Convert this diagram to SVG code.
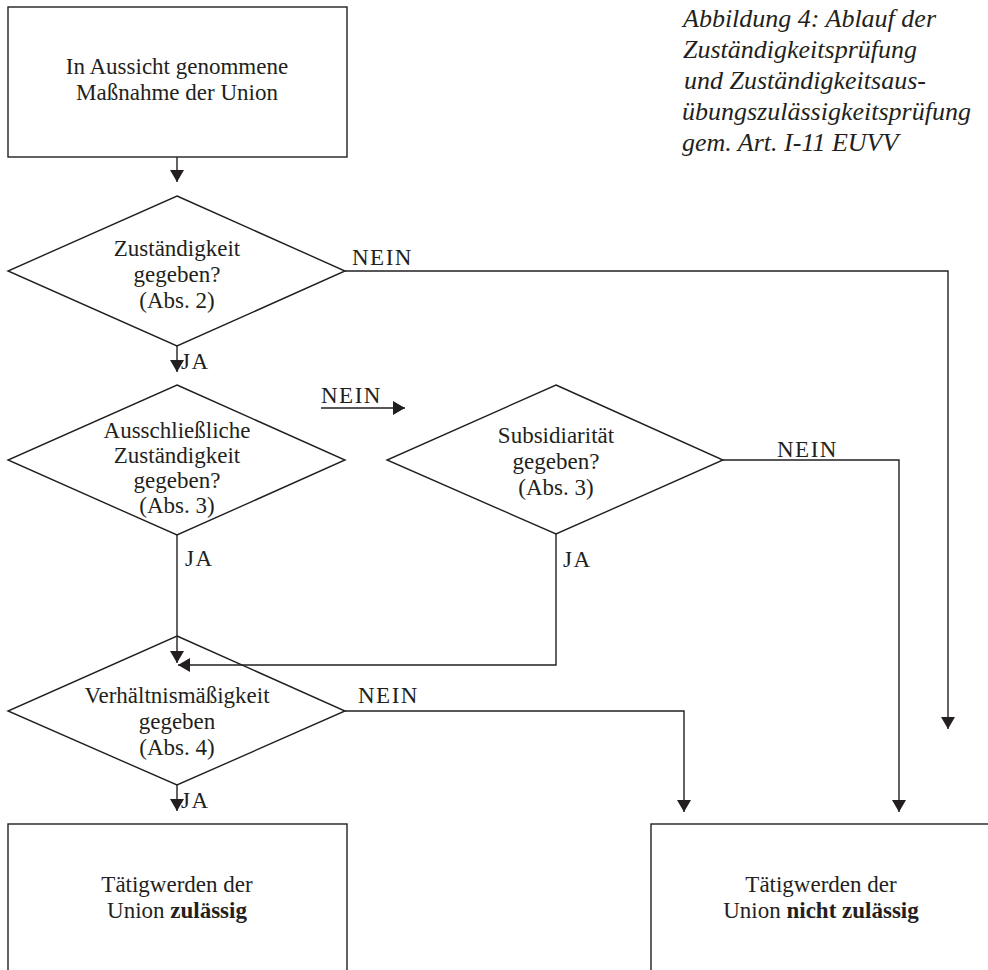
<svg xmlns="http://www.w3.org/2000/svg" width="988" height="970" viewBox="0 0 988 970">
<style>
  .shape { fill: #ffffff; stroke: #231f20; stroke-width: 1.4; }
  .conn { fill: none; stroke: #231f20; stroke-width: 1.4; }
  text { font-family: "Liberation Serif", "Times New Roman", serif; fill: #231f20; }
  .lbl { font-size: 23px; text-anchor: middle; }
  .tag { font-size: 23px; letter-spacing: 1.5px; }
  .title { font-size: 26px; font-style: italic; }
  .b { font-weight: bold; }
</style>
<defs>
  <marker id="arr" viewBox="0 0 12 14" refX="12" refY="7" markerWidth="12" markerHeight="14" markerUnits="userSpaceOnUse" orient="auto">
    <path d="M0,0 L12,7 L0,14 z" fill="#231f20"/>
  </marker>
</defs>
<rect width="988" height="970" fill="#ffffff"/>

<g id="title">
  <text class="title" x="683" y="27">Abbildung 4: Ablauf der</text>
  <text class="title" x="683" y="58">Zuständigkeitsprüfung</text>
  <text class="title" x="684" y="89">und Zuständigkeitsaus-</text>
  <text class="title" x="682" y="120">übungszulässigkeitsprüfung</text>
  <text class="title" x="682" y="151">gem. Art. I-11 EUVV</text>
</g>

<g id="start">
  <rect class="shape" x="8" y="7" width="339" height="150"/>
  <text class="lbl" x="177" y="74">In Aussicht genommene</text>
  <text class="lbl" x="177" y="100">Maßnahme der Union</text>
</g>

<g id="d1">
  <polygon class="shape" points="177,196 345,271 177,346 8,271"/>
  <text class="lbl" x="177" y="256">Zuständigkeit</text>
  <text class="lbl" x="177" y="282">gegeben?</text>
  <text class="lbl" x="177" y="308">(Abs. 2)</text>
</g>

<g id="d2">
  <polygon class="shape" points="177,385 345,460 177,535 8,460"/>
  <text class="lbl" x="177" y="438">Ausschließliche</text>
  <text class="lbl" x="177" y="463">Zuständigkeit</text>
  <text class="lbl" x="177" y="488">gegeben?</text>
  <text class="lbl" x="177" y="513">(Abs. 3)</text>
</g>

<g id="dsub">
  <polygon class="shape" points="556,385 723,460 556,534 387,460"/>
  <text class="lbl" x="556" y="443">Subsidiarität</text>
  <text class="lbl" x="556" y="469">gegeben?</text>
  <text class="lbl" x="556" y="495">(Abs. 3)</text>
</g>

<g id="d3">
  <polygon class="shape" points="177,636 345,711 177,785 8,711"/>
  <text class="lbl" x="177" y="703">Verhältnismäßigkeit</text>
  <text class="lbl" x="177" y="729">gegeben</text>
  <text class="lbl" x="177" y="755">(Abs. 4)</text>
</g>

<g id="ok">
  <rect class="shape" x="8" y="824" width="339" height="160"/>
  <text class="lbl" x="177" y="892">Tätigwerden der</text>
  <text class="lbl" x="177" y="918">Union <tspan class="b">zulässig</tspan></text>
</g>

<g id="notok">
  <rect class="shape" x="651" y="824" width="340" height="160"/>
  <text class="lbl" x="821" y="892">Tätigwerden der</text>
  <text class="lbl" x="821" y="918">Union <tspan class="b">nicht zulässig</tspan></text>
</g>

<g id="connectors">
  <path class="conn" d="M177,157 V182" marker-end="url(#arr)"/>
  <path class="conn" d="M345,271 H948 V729" marker-end="url(#arr)"/>
  <path class="conn" d="M177,346 V372" marker-end="url(#arr)"/>
  <path class="conn" d="M321,408 H405" marker-end="url(#arr)"/>
  <path class="conn" d="M177,535 V663" marker-end="url(#arr)"/>
  <path class="conn" d="M556,534 V665 H178" marker-end="url(#arr)"/>
  <path class="conn" d="M723,460 H899 V812" marker-end="url(#arr)"/>
  <path class="conn" d="M345,711 H684 V812" marker-end="url(#arr)"/>
  <path class="conn" d="M177,785 V811" marker-end="url(#arr)"/>
  <text class="tag" x="352" y="265">NEIN</text>
  <text class="tag" x="181" y="369">JA</text>
  <text class="tag" x="321" y="403">NEIN</text>
  <text class="tag" x="185" y="566">JA</text>
  <text class="tag" x="563" y="567">JA</text>
  <text class="tag" x="777" y="457">NEIN</text>
  <text class="tag" x="358" y="703">NEIN</text>
  <text class="tag" x="181" y="808">JA</text>
</g>
</svg>
